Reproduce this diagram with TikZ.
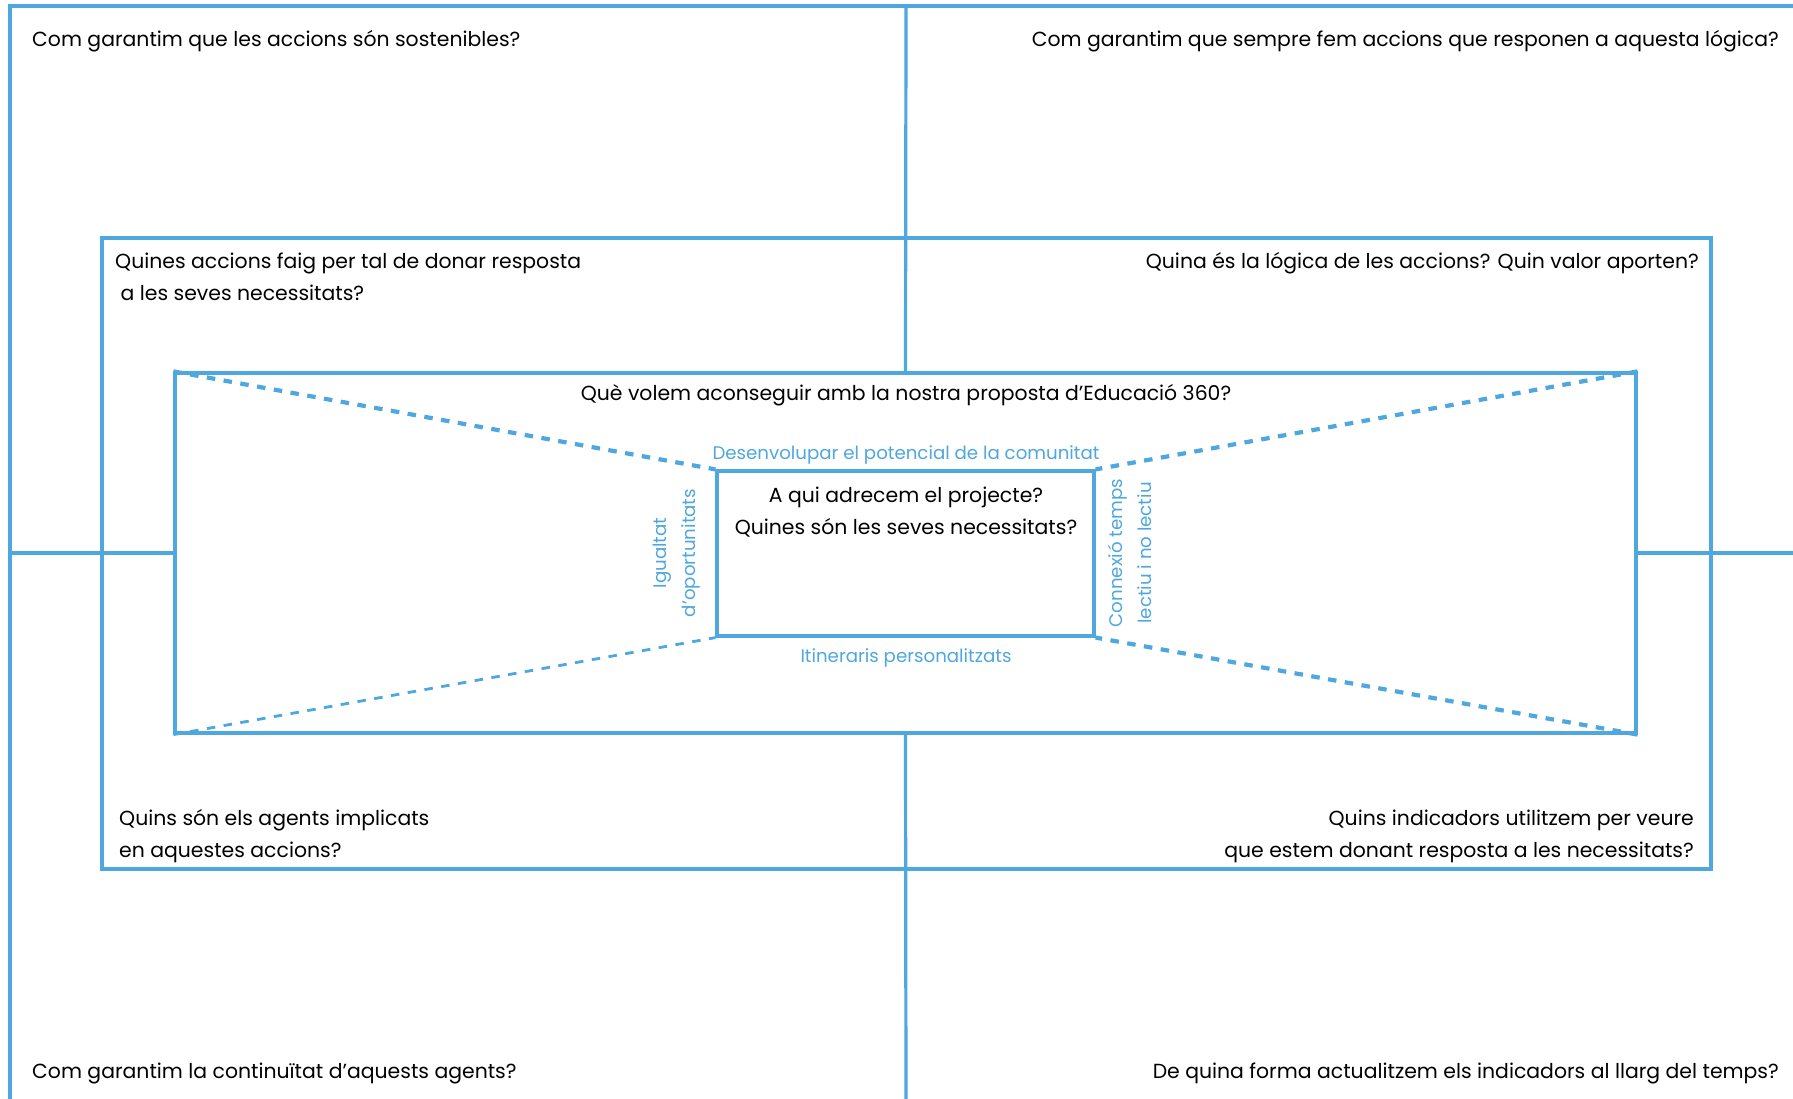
\documentclass[tikz,border=0pt]{standalone}
\usepackage{fontspec}
\setmainfont{Poppins}
\definecolor{blau}{RGB}{78,167,222}
\begin{document}
\begin{tikzpicture}[x=1pt,y=-1pt]
  \tikzstyle{caixa}=[draw=blau,line width=3.2pt,inner sep=0pt];
  \tikzstyle{linia}=[draw=blau,line width=3.2pt];
  \tikzstyle{pregunta}=[inner sep=0pt,font=\fontsize{20.4}{32}\selectfont];
  \tikzstyle{eix}=[blau,inner sep=0pt,font=\fontsize{18.2}{29}\selectfont,align=center];
  \tikzstyle{gruixut}=[draw=blau,line width=4.2pt,dash pattern=on 8.5pt off 8.5pt];
  \tikzstyle{prim}=[draw=blau,line width=2.8pt,dash pattern=on 8.5pt off 8.5pt];
  \useasboundingbox (0,0) rectangle (1793,1099);
  \fill[white] (0,0) rectangle (1793,1099);
  % marc exterior i eixos
  \coordinate (dalt) at (906,6);
  \coordinate (baix) at (906,1110);
  \coordinate (esq) at (10,553);
  \coordinate (dreta) at (1810,553);
  \draw[linia] (10,1110) -- (10,6) -- (1810,6);
  \node[caixa,minimum width=1609pt,minimum height=631pt] (accions) at (906.5,553.5) {};
  \node[caixa,minimum width=1461pt,minimum height=360pt] (objectiu) at (905.5,553) {};
  \node[caixa,minimum width=377pt,minimum height=165pt] (centre) at (905.5,553.5) {};
  \draw[linia] (dalt) -- (objectiu.north);
  \draw[linia] (objectiu.south) -- (baix);
  \draw[linia] (esq) -- (objectiu.west);
  \draw[linia] (objectiu.east) -- (dreta);
  % perspectiva
  \draw[gruixut] (objectiu.north west) -- (centre.north west);
  \draw[gruixut] (objectiu.north east) -- (centre.north east);
  \draw[gruixut] (objectiu.south east) -- (centre.south east);
  \draw[prim] (objectiu.south west) -- (centre.south west);
  % preguntes
  \node[pregunta,anchor=west] (q1) at (32,41.5) {Com garantim que les accions són sostenibles?};
  \node[pregunta,anchor=east] (q2) at (1779,41.5) {Com garantim que sempre fem accions que responen a aquesta lógica?};
  \node[pregunta,anchor=west,align=left] (q3) at (115,277) {Quines accions faig per tal de donar resposta\\\ a les seves necessitats?};
  \node[pregunta,anchor=east] (q4) at (1699,263.5) {Quina és la lógica de les accions? Quin valor aporten?};
  \node[pregunta] (q5) at (906,395.5) {Què volem aconseguir amb la nostra proposta d’Educació 360?};
  \node[pregunta,align=center] (q6) at (906,512.5) {A qui adrecem el projecte?\\Quines són les seves necessitats?};
  \node[pregunta,anchor=west,align=left] (q7) at (119,836.5) {Quins són els agents implicats\\en aquestes accions?};
  \node[pregunta,anchor=east,align=right] (q8) at (1694,836.5) {Quins indicadors utilitzem per veure\\que estem donant resposta a les necessitats?};
  \node[pregunta,anchor=west] (q9) at (32,1073.5) {Com garantim la continuïtat d’aquests agents?};
  \node[pregunta,anchor=east] (q10) at (1779,1073.5) {De quina forma actualitzem els indicadors al llarg del temps?};
  % eixos del centre
  \node[eix] (e1) at (906,455) {Desenvolupar el potencial de la comunitat};
  \node[eix] (e2) at (906,658) {Itineraris personalitzats};
  \node[eix,rotate=90] (e3) at (677,553) {Igualtat\\d’oportunitats};
  \node[eix,rotate=90] (e4) at (1130,553) {Connexió temps\\lectiu i no lectiu};
\end{tikzpicture}
\end{document}
